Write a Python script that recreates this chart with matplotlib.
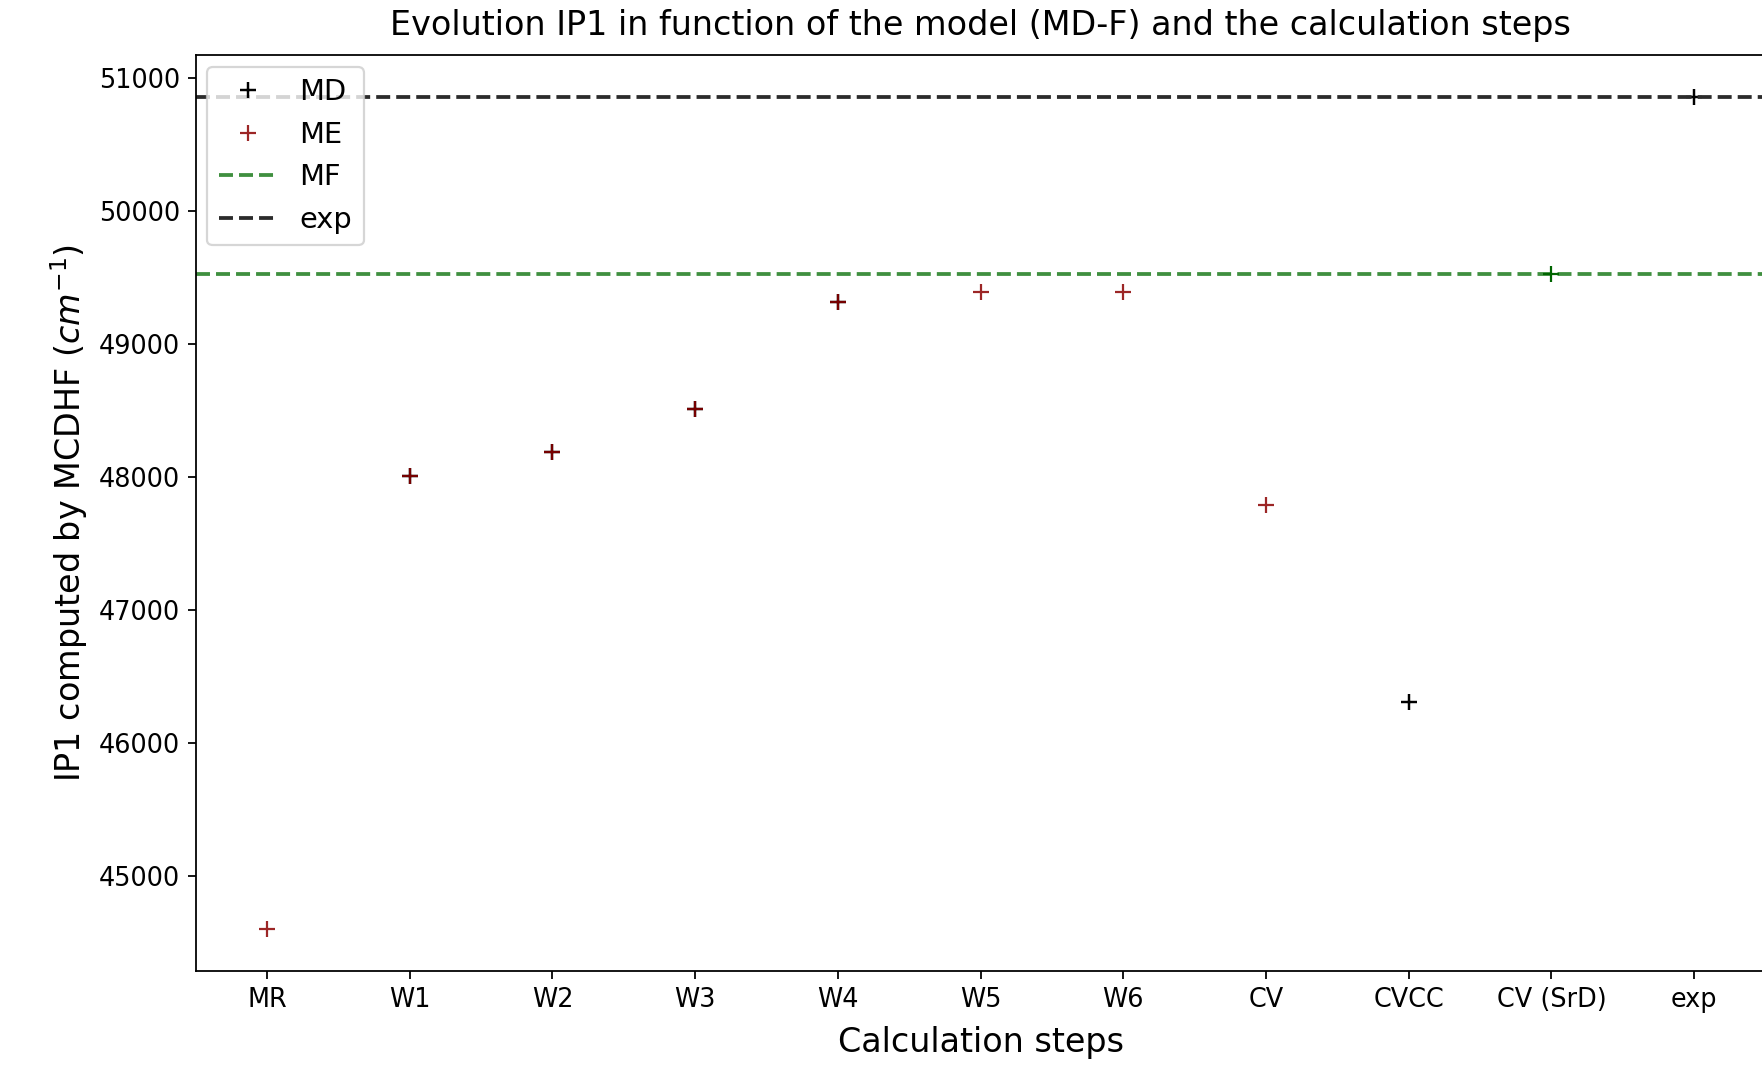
import numpy as np
import matplotlib.pyplot as plt

steps = ['MR', 'W1', 'W2', 'W3', 'W4', 'W5', 'W6', 'CV', 'CVCC', 'CV (SrD)', 'exp']

# values (cm^-1), None = not plotted
md = [None, 48010, 48190, 48510, 49320, None, None, None, 46310, None, 50860]
me = [44600, 48010, 48190, 48510, 49320, 49390, 49390, 47790, None, None, None]
mf = [None, None, None, None, None, None, None, None, None, 49530, None]
mf_level = 49530
exp_level = 50860


def to_arr(vals):
    return np.array([np.nan if v is None else v for v in vals], dtype=float)


fig = plt.figure(figsize=(1762 / 160, 1065 / 160), dpi=160)
ax = fig.add_axes([0.111, 0.0883, 0.891, 0.8597])

x = np.arange(len(steps))
ax.plot(x, to_arr(md), 'k+', markersize=7.5, mew=1.1, label='MD')
ax.plot(x, to_arr(me), '+', color='darkred', markersize=7.5, mew=1.0, alpha=0.85, label='ME')
ax.axhline(mf_level, ls='--', color='#3f8f3f', lw=1.7, label='MF')
ax.plot(x, to_arr(mf), '+', color='darkgreen', markersize=7.5)
ax.axhline(exp_level, ls='--', color='#2b2b2b', lw=1.7, label='exp')

ax.set_xticks(x)
ax.set_xticklabels(steps)
ax.set_xlim(-0.5, len(steps) - 0.5)
ax.set_ylim(44287, 51173)
ax.tick_params(labelsize=11.5)

ax.set_title('Evolution IP1 in function of the model (MD-F) and the calculation steps',
             fontsize=15, pad=9)
ax.set_xlabel('Calculation steps', fontsize=15, labelpad=6)
ax.set_ylabel('IP1 computed by MCDHF $(cm^{-1})$', fontsize=15)
ax.legend(loc='upper left', fontsize=13, borderaxespad=0.4)

fig.savefig('out.png', dpi=160)
